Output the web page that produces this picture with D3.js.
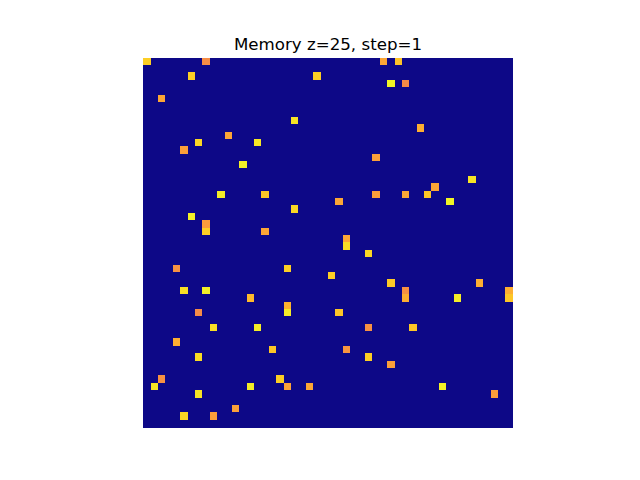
<!DOCTYPE html>
<html><head><meta charset="utf-8">
<script src="https://cdn.jsdelivr.net/npm/d3@7"></script>
<style>body{margin:0;background:#fff}</style>
</head><body>
<script>
const N = 50;
const title = "Memory z=25, step=1";
const cellRows = [0,0,2,2,5,8,10,11,11,12,14,18,18,20,21,22,23,23,
  0,0,3,3,9,13,16,17,18,18,18,19,19,24,
  28,28,31,31,32,33,34,34,36,36,38,39,40,43,44,43,44,44,44,45,47,48,48,
  25,26,29,30,30,31,32,31,32,32,34,36,36,39,40,41,44,45];
const cellCols = [0,8,6,23,2,20,11,7,15,5,13,10,16,20,6,8,8,16,
  32,34,33,35,37,31,44,39,31,35,38,26,41,27,
  4,19,5,8,14,19,19,7,9,15,4,17,7,2,1,18,14,19,22,7,12,5,9,
  27,30,25,33,45,35,35,49,49,42,26,30,36,27,30,33,40,47];
const cellValues = [0.9,0.73,0.9,0.9,0.8,0.95,0.8,0.92,0.96,0.78,0.98,0.97,0.88,0.92,0.98,0.77,0.9,0.8,
  0.8,0.87,0.99,0.72,0.82,0.78,0.95,0.8,0.78,0.8,0.88,0.8,0.99,0.8,
  0.74,0.9,0.94,0.98,0.85,0.83,0.97,0.72,0.94,0.97,0.82,0.88,0.93,0.74,0.95,0.9,0.97,0.79,0.8,0.95,0.78,0.92,0.78,
  0.93,0.92,0.9,0.89,0.82,0.74,0.82,0.82,0.88,0.97,0.88,0.74,0.88,0.75,0.9,0.78,0.98,0.78];

const grid = [];
for (let r = 0; r < N; r++) for (let c = 0; c < N; c++) grid.push({r, c, v: 0});
cellRows.forEach((r, i) => { grid[r * N + cellCols[i]].v = cellValues[i]; });

const W = 640, H = 480;
const svg = d3.select("body").append("svg").attr("width", W).attr("height", H);
const x = d3.scaleBand().domain(d3.range(N)).range([143.2, 512.8]);
const y = d3.scaleBand().domain(d3.range(N)).range([57.6, 427.2]);
const color = d3.scaleSequential(d3.interpolatePlasma).domain([0, 1]);

svg.append("g").attr("shape-rendering", "crispEdges")
  .selectAll("rect").data(grid).join("rect")
  .attr("x", d => x(d.c)).attr("y", d => y(d.r))
  .attr("width", x.bandwidth() + 0.3).attr("height", y.bandwidth() + 0.3)
  .attr("fill", d => color(d.v));

svg.append("text").attr("x", 328).attr("y", 49.5)
  .attr("text-anchor", "middle")
  .attr("font-family", "DejaVu Sans").attr("font-size", 16.67)
  .text(title);
</script>
</body></html>
